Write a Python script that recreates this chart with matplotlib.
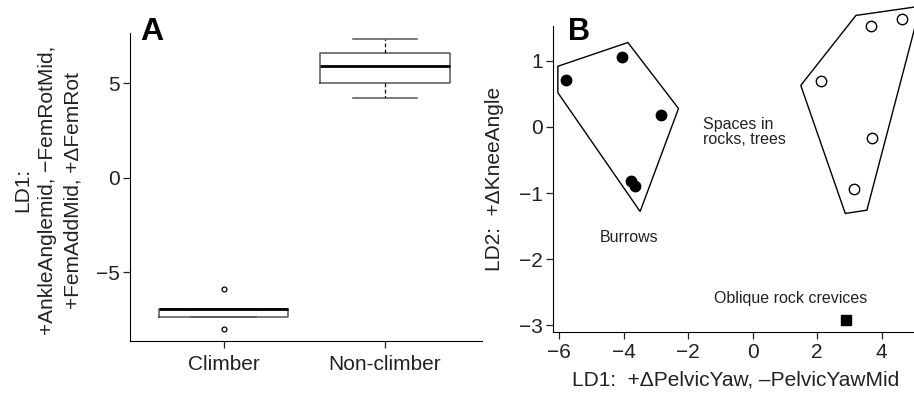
import matplotlib
matplotlib.use("Agg")
import matplotlib.pyplot as plt
from matplotlib.patches import Polygon

plt.rcParams['font.family'] = ['Liberation Sans', 'DejaVu Sans']

# ---- panel A: box plot summaries of LD1 ----
groups = ['Climber', 'Non-climber']
q1 = [-7.35, 5.00]
med = [-6.94, 5.93]
q3 = [-6.94, 6.60]
wlo = [-7.35, 4.24]
whi = [-6.94, 7.33]
outliers = [[-5.88, -8.02], []]

# ---- panel B: LD scores ----
burrow_x = [-5.79, -4.06, -2.84, -3.77, -3.65]
burrow_y = [0.71, 1.065, 0.18, -0.82, -0.89]
spaces_x = [2.13, 3.66, 4.63, 3.69, 3.13]
spaces_y = [0.69, 1.53, 1.63, -0.16, -0.94]
oblique_x = [2.90]
oblique_y = [-2.92]
burrow_hull = [(-6.04, 0.92), (-3.87, 1.28), (-2.30, 0.28), (-3.49, -1.28), (-6.04, 0.52)]
spaces_hull = [(1.49, 0.63), (3.20, 1.69), (5.2, 1.83), (3.54, -1.26), (2.87, -1.31)]

fig = plt.figure(figsize=(9.14, 3.97), dpi=100)

# panel A
axA = fig.add_axes([0.1422, 0.141, 0.385, 0.776])
stats = []
for i in range(len(groups)):
    stats.append(dict(med=med[i], q1=q1[i], q3=q3[i], whislo=wlo[i], whishi=whi[i],
                      fliers=outliers[i], label=groups[i]))
axA.bxp(stats, positions=[1, 2], widths=0.8, patch_artist=False,
        boxprops=dict(color='#555555', lw=1.1),
        medianprops=dict(color='black', lw=2),
        whiskerprops=dict(color='black', lw=0.9, linestyle=(0, (3, 2))),
        capprops=dict(color='#555555', lw=1.1),
        flierprops=dict(marker='o', markersize=3.5, markerfacecolor='white',
                        markeredgecolor='black', markeredgewidth=0.9))
axA.set_xlim(0.42, 2.6)
axA.set_ylim(-8.63, 7.66)
axA.set_yticks([-5, 0, 5])
axA.spines['top'].set_visible(False)
axA.spines['right'].set_visible(False)
axA.tick_params(direction='out', length=5, width=0.9, labelsize=15, colors='#222222')
axA.tick_params(axis='x', pad=5)
axA.tick_params(axis='y', pad=2)
axA.set_ylabel('LD1:\n+AnkleAnglemid, \u2212FemRotMid,\n+FemAddMid, +\u0394FemRot',
               fontsize=15, color='#222222', linespacing=1.4, ha='center')
axA.yaxis.set_label_coords(-0.135, 0.49)
fig.text(140 / 914, 1 - 17 / 397, 'A', fontsize=23, fontweight='bold', va='top', ha='left')

# panel B
axB = fig.add_axes([0.6047, 0.163, 0.3953, 0.7715])
axB.set_xlim(-6.2, 5.0)
axB.set_ylim(-3.11, 1.53)
axB.add_patch(Polygon(burrow_hull, closed=True, fill=False, edgecolor='black', lw=1, clip_on=False))
axB.add_patch(Polygon(spaces_hull, closed=True, fill=False, edgecolor='black', lw=1, clip_on=False))
axB.plot(burrow_x, burrow_y, 'o', ms=7.5, color='black', clip_on=False)
axB.plot(spaces_x, spaces_y, 'o', ms=7.5, mfc='white', mec='black', mew=1, clip_on=False)
axB.plot(oblique_x, oblique_y, 's', ms=7, color='black', clip_on=False)
axB.text(-3.82, -1.68, 'Burrows', fontsize=11.5, ha='center', va='center', color='#222222')
axB.text(-1.53, -0.07, 'Spaces in\nrocks, trees', fontsize=11.5, ha='left', va='center',
         color='#222222', linespacing=1.0)
axB.text(1.19, -2.60, 'Oblique rock crevices', fontsize=11.5, ha='center', va='center', color='#222222')
axB.set_xticks([-6, -4, -2, 0, 2, 4])
axB.set_yticks([-3, -2, -1, 0, 1])
axB.spines['top'].set_visible(False)
axB.spines['right'].set_visible(False)
axB.tick_params(direction='out', length=5, width=0.9, labelsize=15, colors='#222222')
axB.tick_params(axis='x', pad=3)
axB.tick_params(axis='y', pad=2)
axB.set_xlabel('LD1:  +\u0394PelvicYaw, \u2013PelvicYawMid', fontsize=15, color='#222222')
axB.xaxis.set_label_coords(0.507, -0.125)
axB.set_ylabel('LD2:  +\u0394KneeAngle', fontsize=15, color='#222222')
axB.yaxis.set_label_coords(-0.135, 0.5)
fig.text(568 / 914, 1 - 17 / 397, 'B', fontsize=22, fontweight='bold', va='top', ha='left')

fig.savefig('out.png', dpi=100)
